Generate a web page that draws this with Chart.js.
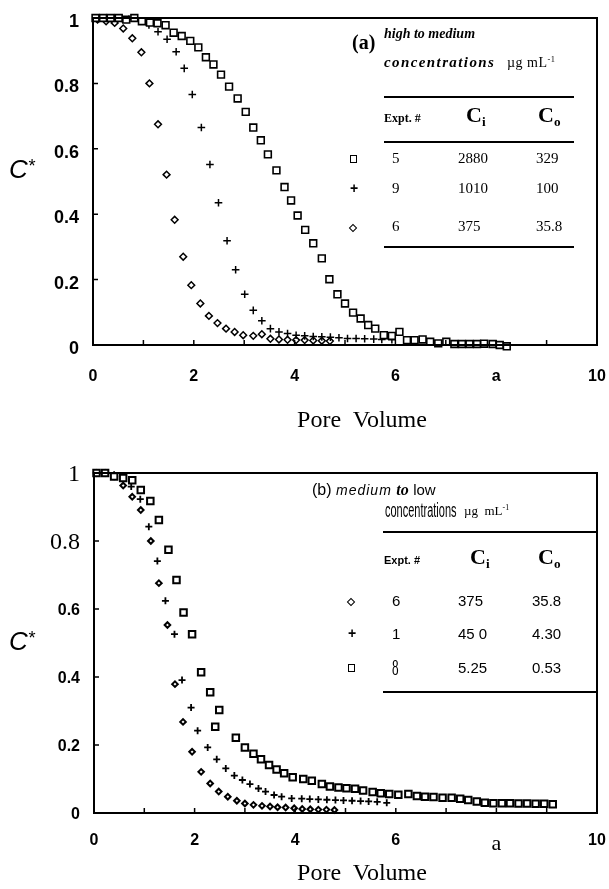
<!DOCTYPE html>
<html>
<head>
<meta charset="utf-8">
<title>Pore volume breakthrough curves</title>
<script src="https://cdn.jsdelivr.net/npm/chart.js@4.4.1/dist/chart.umd.min.js"></script>
<style>
	html, body { margin: 0; padding: 0; background: #fff; }
	#page { position: relative; width: 609px; height: 889px; overflow: hidden; background: #fff; }
	.panel { position: absolute; left: 0; width: 609px; }
	.lbl { position: absolute; white-space: nowrap; color: #000; line-height: 1; transform: translateY(-50%); }
	.mid { transform: translate(-50%, -50%); }
	.rule { position: absolute; height: 2px; background: #000; }
	.serif { font-family: 'Liberation Serif', 'Times New Roman', serif; }
	.sans { font-family: 'Liberation Sans', Arial, sans-serif; }
	.sq { display: inline-block; width: 5px; height: 6px; border: 1.5px solid #000; }
	.dm { display: inline-block; width: 4px; height: 4px; border: 1.5px solid #000; transform: rotate(45deg); }
	sub { font-size: 60%; vertical-align: -0.3em; }
	sup { font-size: 60%; vertical-align: 0.6em; }
</style>
</head>
<body>
<div id="page">
	<div class="panel" style="top:0;height:430px"><canvas id="chartA"></canvas></div>
	<div class="panel" style="top:430px;height:459px"><canvas id="chartB"></canvas></div>
	<div id="labels"></div>
</div>
<script>
/* ==========================================================================
 Data
 ========================================================================== */

// panel (a): high to medium concentrations
const aSquareX = [0.05, 0.20, 0.35, 0.51, 0.66, 0.82, 0.97, 1.13, 1.28, 1.44, 1.60, 1.76, 1.93, 2.09, 2.24, 2.39, 2.54, 2.70, 2.87, 3.03, 3.18, 3.33, 3.47, 3.64, 3.80, 3.93, 4.06, 4.21, 4.37, 4.54, 4.69, 4.85, 5.00, 5.16, 5.31, 5.46, 5.60, 5.77, 5.93, 6.08, 6.23, 6.38, 6.54, 6.69, 6.85, 7.01, 7.17, 7.32, 7.47, 7.62, 7.76, 7.93, 8.07, 8.21];
const aSquareY = [1.00, 1.00, 1.00, 1.00, 0.995, 1.00, 0.99, 0.986, 0.984, 0.978, 0.955, 0.945, 0.93, 0.91, 0.88, 0.858, 0.827, 0.79, 0.754, 0.713, 0.665, 0.626, 0.583, 0.534, 0.483, 0.442, 0.396, 0.352, 0.311, 0.265, 0.201, 0.155, 0.127, 0.099, 0.081, 0.061, 0.05, 0.03, 0.028, 0.04, 0.015, 0.015, 0.017, 0.01, 0.005, 0.01, 0.003, 0.003, 0.003, 0.003, 0.004, 0.003, 0.0, -0.004];

const aCrossX = [0.06, 0.22, 0.42, 0.58, 0.71, 0.94, 1.11, 1.29, 1.47, 1.65, 1.81, 1.97, 2.15, 2.32, 2.49, 2.66, 2.83, 3.01, 3.18, 3.35, 3.52, 3.69, 3.86, 4.03, 4.20, 4.37, 4.54, 4.71, 4.88, 5.05, 5.22, 5.39, 5.57, 5.73, 5.93];
const aCrossY = [1.0, 1.0, 1.0, 0.998, 0.996, 0.99, 0.979, 0.958, 0.935, 0.897, 0.846, 0.766, 0.665, 0.552, 0.435, 0.319, 0.23, 0.155, 0.106, 0.074, 0.05, 0.04, 0.035, 0.03, 0.028, 0.026, 0.025, 0.024, 0.022, 0.02, 0.02, 0.019, 0.018, 0.017, 0.016];

const aDiamondX = [0.09, 0.26, 0.43, 0.60, 0.78, 0.96, 1.12, 1.29, 1.46, 1.62, 1.79, 1.95, 2.13, 2.30, 2.47, 2.64, 2.81, 2.98, 3.18, 3.35, 3.52, 3.69, 3.86, 4.03, 4.20, 4.37, 4.54, 4.70];
const aDiamondY = [0.995, 0.99, 0.985, 0.968, 0.938, 0.895, 0.80, 0.675, 0.521, 0.383, 0.27, 0.183, 0.127, 0.089, 0.067, 0.05, 0.04, 0.03, 0.028, 0.033, 0.019, 0.017, 0.016, 0.015, 0.015, 0.014, 0.013, 0.012];

// panel (b): medium to low concentrations
const bDiamondX = [0.05, 0.22, 0.40, 0.58, 0.76, 0.93, 1.13, 1.29, 1.46, 1.61, 1.77, 1.95, 2.13, 2.31, 2.48, 2.66, 2.84, 3.00, 3.17, 3.34, 3.50, 3.65, 3.81, 3.98, 4.14, 4.30, 4.46, 4.62, 4.78];
const bDiamondY = [1.0, 1.0, 0.99, 0.963, 0.93, 0.891, 0.80, 0.676, 0.553, 0.379, 0.268, 0.18, 0.121, 0.087, 0.063, 0.048, 0.036, 0.028, 0.024, 0.021, 0.019, 0.017, 0.016, 0.014, 0.012, 0.011, 0.010, 0.010, 0.009];

const bCrossX = [0.05, 0.22, 0.40, 0.57, 0.74, 0.92, 1.09, 1.26, 1.42, 1.60, 1.75, 1.93, 2.06, 2.26, 2.44, 2.62, 2.79, 2.95, 3.10, 3.27, 3.41, 3.58, 3.73, 3.93, 4.13, 4.29, 4.46, 4.63, 4.80, 4.96, 5.13, 5.30, 5.46, 5.63, 5.82];
const bCrossY = [1.0, 1.0, 0.995, 0.985, 0.96, 0.923, 0.842, 0.741, 0.624, 0.526, 0.391, 0.31, 0.242, 0.193, 0.158, 0.131, 0.11, 0.097, 0.085, 0.072, 0.063, 0.053, 0.048, 0.043, 0.042, 0.041, 0.040, 0.039, 0.038, 0.037, 0.036, 0.035, 0.034, 0.033, 0.030];

const bSquareX = [0.05, 0.22, 0.40, 0.58, 0.76, 0.93, 1.12, 1.29, 1.48, 1.64, 1.78, 1.95, 2.13, 2.31, 2.49, 2.41, 2.82, 3.00, 3.17, 3.32, 3.48, 3.63, 3.78, 3.95, 4.16, 4.33, 4.53, 4.69, 4.86, 5.02, 5.19, 5.35, 5.54, 5.70, 5.87, 6.05, 6.25, 6.42, 6.58, 6.75, 6.93, 7.11, 7.28, 7.44, 7.61, 7.77, 7.94, 8.11, 8.27, 8.44, 8.61, 8.78, 8.95, 9.12];
const bSquareY = [1.0, 1.0, 0.99, 0.985, 0.979, 0.95, 0.918, 0.862, 0.774, 0.685, 0.59, 0.526, 0.414, 0.355, 0.303, 0.254, 0.221, 0.193, 0.174, 0.158, 0.141, 0.128, 0.117, 0.105, 0.100, 0.095, 0.085, 0.078, 0.075, 0.073, 0.071, 0.066, 0.062, 0.058, 0.056, 0.054, 0.056, 0.050, 0.048, 0.047, 0.045, 0.045, 0.042, 0.038, 0.034, 0.030, 0.029, 0.029, 0.029, 0.028, 0.028, 0.027, 0.027, 0.026];

// legend tables
const aExpt = ['5', '9', '6'];
const aCi = ['2880', '1010', '375'];
const aCo = ['329', '100', '35.8'];
const bExpt = ['6', '1', '8'];
const bCi = ['375', '45 0', '5.25'];
const bCo = ['35.8', '4.30', '0.53'];

const xTickValues = [1, 2, 3, 4, 5, 6, 7, 8, 9];
const yTickValues = [0.2, 0.4, 0.6, 0.8];

const zip = (xs, ys) => xs.map((x, i) => ({x: x, y: ys[i]}));

/* ==========================================================================
 Frame and inner tick marks
 ========================================================================== */

const framePlugin = {
	id: 'frame',
	afterDatasetsDraw(chart, args, options) {
		const {ctx, chartArea: a, scales: {x, y}} = chart;
		ctx.save();
		ctx.strokeStyle = '#000';
		ctx.lineWidth = options.width;
		ctx.strokeRect(a.left, a.top, a.right - a.left, a.bottom - a.top);
		ctx.lineWidth = 1.5;
		ctx.beginPath();
		xTickValues.forEach(v => {
			const px = x.getPixelForValue(v);
			ctx.moveTo(px, a.bottom);
			ctx.lineTo(px, a.bottom - 5);
		});
		yTickValues.forEach(v => {
			const py = y.getPixelForValue(v);
			ctx.moveTo(a.left, py);
			ctx.lineTo(a.left + 5, py);
		});
		ctx.stroke();
		ctx.restore();
	}
};

/* ==========================================================================
 Config
 ========================================================================== */

const boldSans = size => ({family: "'Liberation Sans', Arial, sans-serif", size: size, weight: 'bold'});
const plainSerif = size => ({family: "'Liberation Serif', 'Times New Roman', serif", size: size, weight: 'normal'});
const near = (a, b) => Math.abs(a - b) < 1e-6;

function makeConfig(datasets, o) {
	return {
		type: 'scatter',
		data: {datasets: datasets},
		options: {
			animation: false,
			responsive: true,
			maintainAspectRatio: false,
			layout: {padding: {top: o.top, right: o.right, left: 0, bottom: 0}},
			scales: {
				x: {
					min: 0,
					max: 10,
					grid: {display: false, drawTicks: false},
					border: {display: false},
					afterFit: s => {
						s.height = o.xHeight;
						s.paddingLeft = 0;
						s.paddingRight = 0;
					},
					ticks: {
						stepSize: 2,
						color: '#000',
						padding: o.xPad,
						maxRotation: 0,
						callback: v => (v === 8 ? 'a' : String(v)),
						font: c => (c.tick && c.tick.value === 8 ? o.aFont : boldSans(o.xSize)),
					},
				},
				y: {
					min: 0,
					max: 1,
					grid: {display: false, drawTicks: false},
					border: {display: false},
					afterFit: s => {
						s.width = o.yWidth;
						s.paddingTop = 0;
						s.paddingBottom = 0;
					},
					ticks: {
						stepSize: 0.2,
						color: '#000',
						padding: o.yPad,
						labelOffset: o.yShift,
						callback: v => String(Math.round(v * 10) / 10),
						font: o.yFont,
					},
				},
			},
			plugins: {
				legend: {display: false},
				tooltip: {enabled: false},
				frame: {width: 2},
			},
		},
		plugins: [framePlugin],
	};
}

function series(xs, ys, style, r, bw) {
	return {
		data: zip(xs, ys),
		pointStyle: style,
		pointRadius: r,
		borderColor: '#000',
		backgroundColor: '#fff',
		borderWidth: bw,
		showLine: false,
		clip: false,
	};
}

/* ==========================================================================
 Render
 ========================================================================== */

Chart.defaults.color = '#000';

new Chart(document.getElementById('chartA'), makeConfig([
	series(aSquareX, aSquareY, 'rect', 4.8, 1.6),
	series(aCrossX, aCrossY, 'cross', 3.8, 1.5),
	series(aDiamondX, aDiamondY, 'rectRot', 3.4, 1.5),
], {
	top: 18, right: 12, xHeight: 85, yWidth: 93, xPad: 22, yPad: 14, yShift: 4,
	xSize: 16, aFont: boldSans(16),
	yFont: boldSans(18),
}));

new Chart(document.getElementById('chartB'), makeConfig([
	series(bSquareX, bSquareY, 'rect', 4.6, 2),
	series(bCrossX, bCrossY, 'cross', 3.5, 1.8),
	series(bDiamondX, bDiamondY, 'rectRot', 2.8, 2),
], {
	top: 43, right: 12, xHeight: 76, yWidth: 94, xPad: 18, yPad: 14, yShift: 2,
	xSize: 16, aFont: plainSerif(22),
	yFont: c => {
		const v = c.tick ? c.tick.value : 0;
		return (near(v, 1) || near(v, 0.8)) ? plainSerif(24) : boldSans(16);
	},
}));

/* ==========================================================================
 Text overlays (axis names and legend tables)
 ========================================================================== */

const layer = document.getElementById('labels');

function put(x, y, html, cls, css) {
	const el = document.createElement('div');
	el.className = 'lbl ' + (cls || '');
	el.innerHTML = html;
	el.style.left = x + 'px';
	el.style.top = y + 'px';
	if (css) el.style.cssText += ';' + css;
	layer.appendChild(el);
	return el;
}

function rule(x, y, w) {
	const el = document.createElement('div');
	el.className = 'rule';
	el.style.left = x + 'px';
	el.style.top = y + 'px';
	el.style.width = w + 'px';
	layer.appendChild(el);
}

const cStar = 'C<span style="font-size:70%;vertical-align:0.35em">*</span>';
put(9, 169, cStar, 'sans', 'font-size:26px;font-style:italic');
put(9, 641, cStar, 'sans', 'font-size:26px;font-style:italic');
put(362, 419, 'Pore&nbsp; Volume', 'serif mid', 'font-size:24px');
put(362, 872, 'Pore&nbsp; Volume', 'serif mid', 'font-size:24px');

// panel (a) legend
put(352, 42, '(a)', 'serif', 'font-size:20px;font-weight:bold');
put(384, 34, 'high to medium', 'serif', 'font-size:14px;font-weight:bold;font-style:italic');
put(384, 62, 'concentrations', 'serif', 'font-size:15px;font-weight:bold;font-style:italic;letter-spacing:1.4px');
put(507, 63, '&micro;g mL<sup>-1</sup>', 'serif', 'font-size:14px;letter-spacing:0.5px');
rule(384, 96, 190);
put(384, 118, 'Expt. #', 'serif', 'font-size:12px;font-weight:bold');
put(466, 116, 'C<sub>i</sub>', 'serif', 'font-size:22px;font-weight:bold');
put(538, 116, 'C<sub>o</sub>', 'serif', 'font-size:22px;font-weight:bold');
rule(384, 141, 190);
const aRowY = [158, 188, 226];
const aMarks = ['<span class="sq"></span>', '<b>+</b>', '<span class="dm"></span>'];
aRowY.forEach((y, i) => {
	put(350, y, aMarks[i], 'sans', 'font-size:14px');
	put(392, y, aExpt[i], 'serif', 'font-size:15px');
	put(458, y, aCi[i], 'serif', 'font-size:15px');
	put(536, y, aCo[i], 'serif', 'font-size:15px');
});
rule(384, 246, 190);

// panel (b) legend
put(312, 490, '(b) <span style="font-style:italic;letter-spacing:1px;font-size:14px">medium</span> '
	+ '<span class="serif" style="font-style:italic;font-weight:bold;font-size:16px">to</span> '
	+ '<span style="font-size:15px">low</span>', 'sans', 'font-size:16px');
put(385, 510, 'concentrations', 'sans', 'font-size:20px;transform:translateY(-50%) scaleX(0.55);transform-origin:left center');
put(464, 510, '&micro;g&nbsp; mL<sup>-1</sup>', 'serif', 'font-size:13px');
rule(383, 531, 214);
put(384, 560, 'Expt. #', 'sans', 'font-size:11px;font-weight:bold');
put(470, 558, 'C<sub>i</sub>', 'serif', 'font-size:22px;font-weight:bold');
put(538, 558, 'C<sub>o</sub>', 'serif', 'font-size:22px;font-weight:bold');
const bRowY = [600, 633, 667];
const bMarks = ['<span class="dm"></span>', '<b>+</b>', '<span class="sq"></span>'];
bRowY.forEach((y, i) => {
	put(348, y, bMarks[i], 'sans', 'font-size:14px');
	if (i === 2) {
		put(392, y, bExpt[i], 'serif', 'font-size:24px;transform:translateY(-50%) scaleX(0.55);transform-origin:left center');
	} else {
		put(392, y, bExpt[i], 'sans', 'font-size:15px');
	}
	put(458, y, bCi[i], 'sans', 'font-size:15px');
	put(532, y, bCo[i], 'sans', 'font-size:15px');
});
rule(383, 691, 214);
</script>
</body>
</html>
